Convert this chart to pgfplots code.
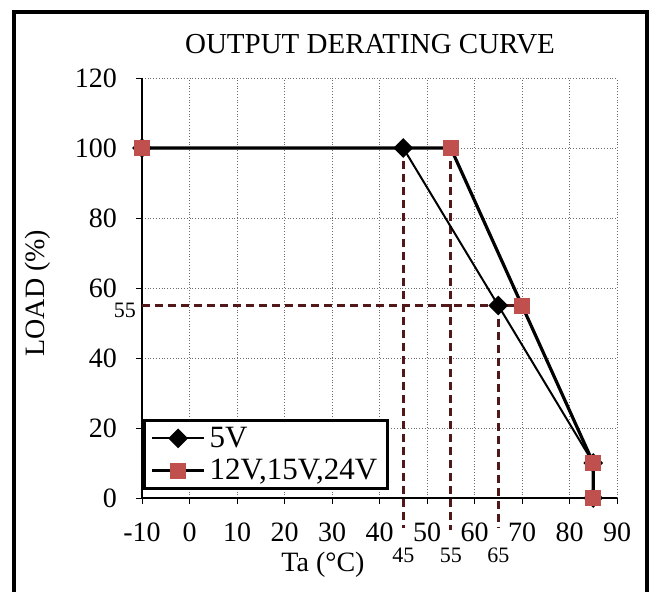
\documentclass[border=0pt]{standalone}
\usepackage{fontspec}
\setmainfont{Liberation Serif}
\usepackage{pgfplots}
\pgfplotsset{compat=1.18}
\definecolor{sqred}{HTML}{C0504D}
\definecolor{darkmaroon}{HTML}{501818}
\begin{document}
\begin{tikzpicture}
\begin{axis}[
    at={(0pt,0pt)}, anchor=south west,
    scale only axis, width=237.5pt, height=210pt,
    xmin=-10, xmax=90, ymin=0, ymax=120,
    xtick={-10,0,...,90}, ytick={0,20,...,120},
    xticklabels={-10,0,10,20,30,40,50,60,70,80,90},
    /pgf/number format/assume math mode=true,
    grid=major, grid style={densely dotted, gray!85!black, line width=0.4pt},
    axis x line*=bottom, axis y line*=left,
    axis line style={-, line width=0.6pt},
    tick align=outside, major tick length=3pt,
    tick style={black, line width=0.5pt},
    ticklabel style={font=\fontsize{14}{16}\selectfont},
    xticklabel style={yshift=-6pt},
    yticklabel style={xshift=-6pt},
    xlabel={Ta (°C)},
    ylabel={LOAD (\%)},
    label style={font=\fontsize{14}{16}\selectfont},
    x label style={at={(rel axis cs:0.381,0)}, anchor=center, yshift=-33.5pt},
    y label style={at={(rel axis cs:0,0.488)}, anchor=center, yshift=52pt},
    clip=false,
    legend cell align=left,
    legend style={at={(rel axis cs:0.002,0.019)}, anchor=south west,
        draw=black, line width=1.5pt, fill=white,
        font=\fontsize{15.5}{17}\selectfont,
        inner xsep=3pt, inner ysep=1pt, row sep=0.5pt},
    legend image code/.code={
        \draw[mark repeat=2, mark phase=2, #1]
            plot coordinates {(0pt,0pt) (13pt,0pt) (26pt,0pt)};},
]
% dashed guide lines
\addplot[forget plot, darkmaroon, line width=1.4pt, dash pattern=on 4pt off 2.5pt]
    coordinates {(45,100) (45,-8.6)};
\addplot[forget plot, darkmaroon, line width=1.4pt, dash pattern=on 4pt off 2.5pt]
    coordinates {(55,100) (55,-9.2)};
\addplot[forget plot, darkmaroon, line width=1.4pt, dash pattern=on 4pt off 2.5pt]
    coordinates {(65,55) (65,-8.6)};
\addplot[forget plot, darkmaroon, line width=1.4pt, dash pattern=on 4pt off 2.5pt]
    coordinates {(-10,55) (70,55)};
% 5V
\addplot[black, line width=1pt, mark=square*, mark size=3pt,
    mark options={rotate=45, fill=black, solid}]
    coordinates {(-10,100) (45,100) (65,55) (85,10) (85,0)};
\addlegendentry{5V}
% 12V,15V,24V
\addplot[black, line width=1.6pt, mark=square*, mark size=3.75pt,
    mark options={fill=sqred, draw=sqred, line width=0.4pt, solid}]
    coordinates {(-10,100) (55,100) (70,55) (85,10) (85,0)};
\addlegendentry{12V,15V,24V}
% extra labels
\node[font=\fontsize{11}{12}\selectfont] at (axis cs:45,-16.3) {45};
\node[font=\fontsize{11}{12}\selectfont] at (axis cs:55,-16.3) {55};
\node[font=\fontsize{11}{12}\selectfont] at (axis cs:65,-16.3) {65};
\node[font=\fontsize{11}{12}\selectfont, xshift=-8.5pt] at (axis cs:-10,53.7) {55};
\end{axis}
% title
\node[font=\fontsize{14.5}{16}\selectfont, anchor=base] at (114pt,222.5pt) {OUTPUT DERATING CURVE};
\draw[line width=1.8pt] (-64pt,-60pt) rectangle (252.5pt,243pt);
\pgfresetboundingbox
\useasboundingbox (-71pt,-46.5pt) rectangle (257pt,249pt);
\end{tikzpicture}
\end{document}
